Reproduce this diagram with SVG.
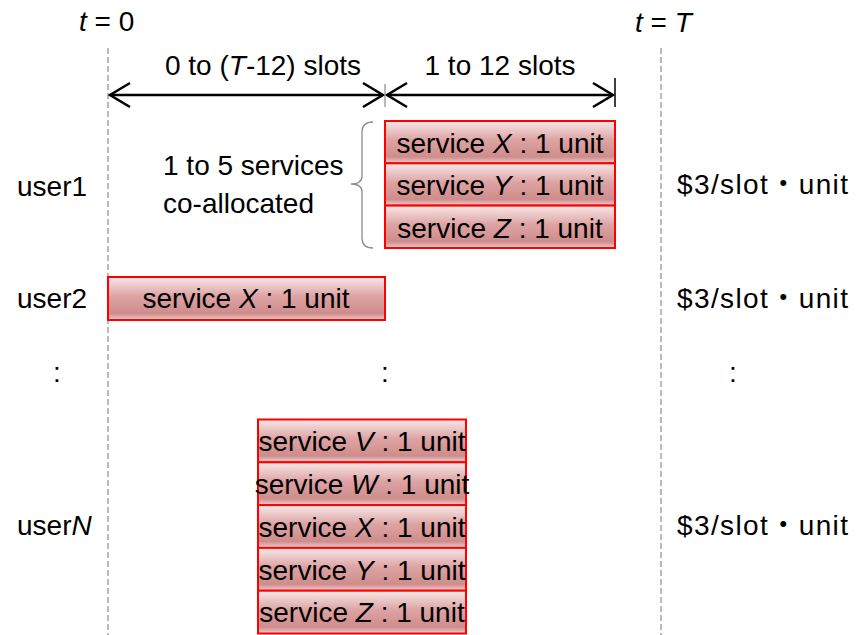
<svg xmlns="http://www.w3.org/2000/svg" width="865" height="635" viewBox="0 0 865 635">
<defs>
<linearGradient id="g" x1="0" y1="0" x2="0" y2="1">
<stop offset="0" stop-color="#f9e8e8"/>
<stop offset="0.45" stop-color="#dda3a3"/>
<stop offset="0.85" stop-color="#cf8c8c"/>
<stop offset="1" stop-color="#efcfcf"/>
</linearGradient>
<marker id="ah" markerWidth="24" markerHeight="28" refX="22" refY="14" orient="auto-start-reverse" markerUnits="userSpaceOnUse">
<path d="M2,2 L22,14 L2,26" fill="none" stroke="#000" stroke-width="2.5"/>
</marker>
<style>
text{font-family:"Liberation Sans",Arial,"Noto Sans CJK JP",sans-serif;font-size:28px;fill:#000}
.c{text-anchor:middle}
.box{fill:url(#g);stroke:#ff0000;stroke-width:2}
.dash{stroke:#8c8c8c;stroke-width:1.2;stroke-dasharray:6,3;fill:none}
.ar{stroke:#000;stroke-width:2.5;fill:none}
</style>
</defs>
<g id="timeline">
<line class="dash" x1="108" y1="48" x2="108" y2="635"/>
<line class="dash" x1="661" y1="48" x2="661" y2="635"/>
<text x="79" y="31"><tspan font-style="italic">t</tspan> = 0</text>
<text x="635" y="32"><tspan font-style="italic">t</tspan> = <tspan font-style="italic">T</tspan></text>
</g>
<g id="connectors">
<line class="ar" x1="110" y1="95" x2="383" y2="95" marker-start="url(#ah)" marker-end="url(#ah)"/>
<line class="ar" x1="387" y1="95" x2="613" y2="95" marker-start="url(#ah)" marker-end="url(#ah)"/>
<line x1="385" y1="84" x2="385" y2="107" stroke="#8c8c8c" stroke-width="1.2"/>
<line x1="615" y1="78" x2="615" y2="107" stroke="#000" stroke-width="1.5"/>
<path d="M373,122 Q362,122 362,132 L362,176 Q362,184 351,184 Q362,184 362,192 L362,238 Q362,248 373,248" fill="none" stroke="#8c8c8c" stroke-width="1.3"/>
</g>
<g id="labels">
<text class="c" x="263" y="75">0 to (<tspan font-style="italic">T</tspan>-12) slots</text>
<text class="c" x="500" y="75">1 to 12 slots</text>
<text x="163" y="175">1 to 5 services</text>
<text x="163" y="213">co-allocated</text>
<text x="17" y="196">user1</text>
<text x="17" y="308">user2</text>
<text x="17" y="535">user<tspan font-style="italic">N</tspan></text>
<text class="c" x="57" y="382">:</text>
<text class="c" x="385" y="382">:</text>
<text class="c" x="733" y="382">:</text>
<text x="677" y="194" textLength="171">$3/slot・unit</text>
<text x="677" y="308" textLength="171">$3/slot・unit</text>
<text x="677" y="535" textLength="171">$3/slot・unit</text>
</g>
<g id="user1-services">
<rect class="box" x="385" y="121" width="230" height="42.3"/>
<rect class="box" x="385" y="163.3" width="230" height="42.3"/>
<rect class="box" x="385" y="205.6" width="230" height="42.4"/>
<text class="c" x="500" y="153">service <tspan font-style="italic">X</tspan> : 1 unit</text>
<text class="c" x="500" y="195">service <tspan font-style="italic">Y</tspan> : 1 unit</text>
<text class="c" x="500" y="238">service <tspan font-style="italic">Z</tspan> : 1 unit</text>
</g>
<g id="user2-services">
<rect class="box" x="108" y="277" width="277" height="43"/>
<text class="c" x="246" y="308">service <tspan font-style="italic">X</tspan> : 1 unit</text>
</g>
<g id="userN-services">
<rect class="box" x="258" y="419.5" width="208" height="42.8"/>
<rect class="box" x="258" y="462.3" width="208" height="42.8"/>
<rect class="box" x="258" y="505.1" width="208" height="42.8"/>
<rect class="box" x="258" y="547.9" width="208" height="42.8"/>
<rect class="box" x="258" y="590.7" width="208" height="42.8"/>
<text class="c" x="362" y="451">service <tspan font-style="italic">V</tspan> : 1 unit</text>
<text class="c" x="362" y="494">service <tspan font-style="italic">W</tspan> : 1 unit</text>
<text class="c" x="362" y="537">service <tspan font-style="italic">X</tspan> : 1 unit</text>
<text class="c" x="362" y="580">service <tspan font-style="italic">Y</tspan> : 1 unit</text>
<text class="c" x="362" y="622">service <tspan font-style="italic">Z</tspan> : 1 unit</text>
</g>
</svg>
